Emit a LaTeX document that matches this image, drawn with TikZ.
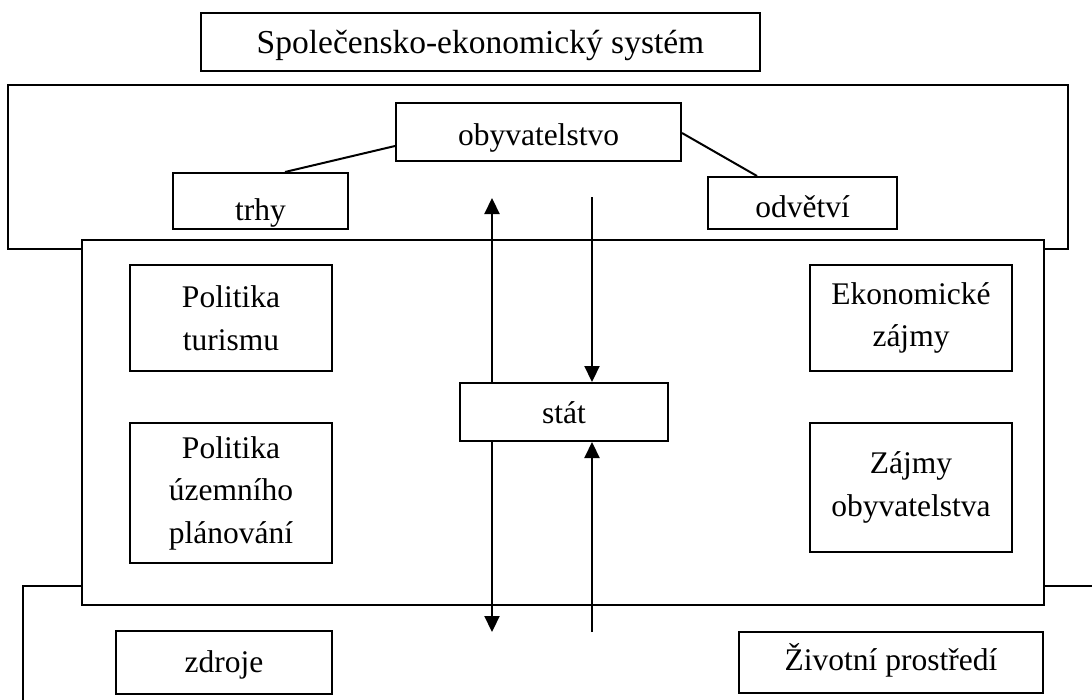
\documentclass[tikz,border=0pt]{standalone}
\usepackage{fontspec}
\setmainfont{Liberation Serif}
\usetikzlibrary{arrows.meta}
\begin{document}
\begin{tikzpicture}[x=1pt,y=-1pt,
  line width=2pt,
  box/.style={draw=black,fill=white,line width=2pt,inner sep=0pt,align=center,
    font=\fontsize{31.5}{42.5}\selectfont},
  base/.style={text height=#1,text depth=0pt},
  frame/.style={draw=black,fill=white,line width=2pt},
  arr/.style={line width=2.2pt,-{Triangle[length=16pt,width=15pt]}}]
\useasboundingbox (0,0) rectangle (1092,699);
\clip (0,0) rectangle (1092,699);
\fill[white] (0,0) rectangle (1092,699);
% title
\node[box,base=23pt,minimum width=559pt,minimum height=58pt,font=\fontsize{33.5}{40}\selectfont] (title) at (480.5,42) {Společensko-ekonomický systém};
% outer frames
\draw[frame] (8,85) rectangle (1068,249);
\draw[black,line width=2pt] (23,720) -- (23,586) -- (1110,586);
\draw[frame] (82,240) rectangle (1044,605);
% top group
\node[box,base=26pt,minimum width=285pt,minimum height=58pt] (obyv) at (538.5,132) {obyvatelstvo};
\node[box,base=38pt,minimum width=175pt,minimum height=56pt] (trhy) at (260.5,201) {trhy};
\node[box,base=28pt,minimum width=189pt,minimum height=52pt] (odv) at (802.5,203) {odvětví};
\draw (obyv.west |- 0,146) -- (trhy.north -| 285,0);
\draw (obyv.east |- 0,133) -- (odv.north -| 757,0);
% middle boxes
\node[box,minimum width=202pt,minimum height=106pt] (pt) at (231,318) {Politika\\turismu};
\node[box,minimum width=202pt,minimum height=140pt] (pu) at (231,493) {Politika\\územního\\plánování};
\node[box,minimum width=202pt,minimum height=106pt] (ez) at (911,318) {Ekonomické\\zájmy};
\node[box,minimum width=202pt,minimum height=129pt] (zo) at (911,487.5) {Zájmy\\obyvatelstva};
\node[box,base=22pt,minimum width=208pt,minimum height=58pt] (stat) at (564,412) {stát};
% bottom boxes
\node[box,base=19pt,minimum width=216pt,minimum height=63pt] (zdr) at (224,662.5) {zdroje};
\node[box,base=15pt,minimum width=304pt,minimum height=61pt] (zp) at (891,662.5) {Životní prostředí};
% arrows
\coordinate (upA) at (492,198);
\coordinate (downA) at (492,632);
\coordinate (topB) at (592,197);
\coordinate (botB) at (592,632);
\draw[arr] (stat.north -| upA) -- (upA);
\draw[arr] (stat.south -| downA) -- (downA);
\draw[arr] (topB) -- (stat.north -| topB);
\draw[arr] (botB) -- (stat.south -| botB);
\end{tikzpicture}
\end{document}
